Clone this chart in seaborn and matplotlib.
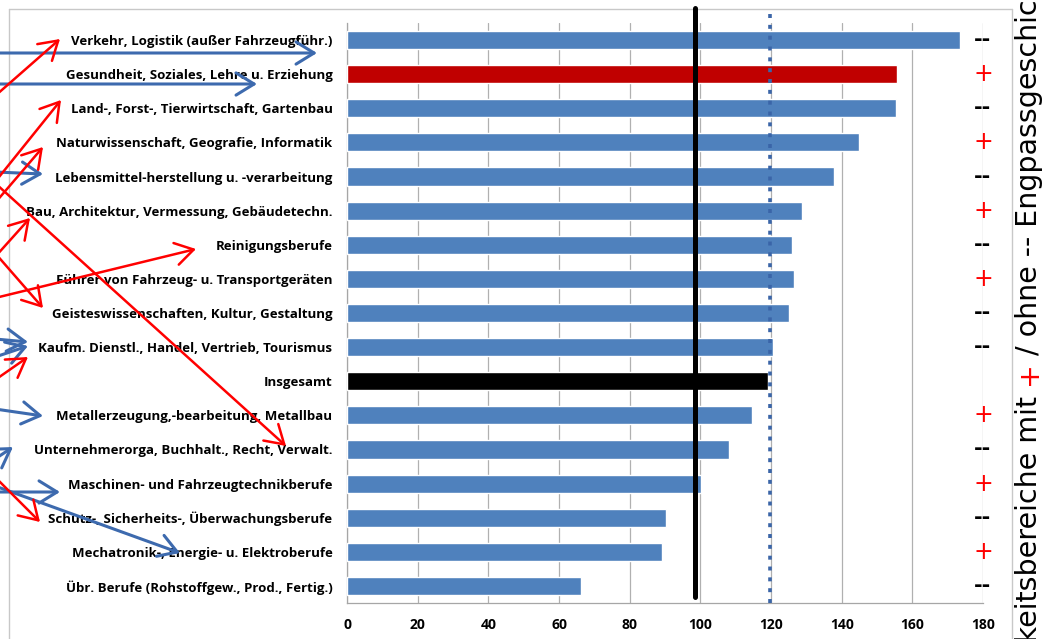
import numpy as np
import pandas as pd
import matplotlib
matplotlib.use("Agg")
import matplotlib.pyplot as plt
import seaborn as sns
from matplotlib.patches import FancyArrowPatch
from matplotlib.lines import Line2D

# --- data -------------------------------------------------------------
categories = [
    "Verkehr, Logistik (außer Fahrzeugführ.)",
    "Gesundheit, Soziales, Lehre u. Erziehung",
    "Land-, Forst-, Tierwirtschaft, Gartenbau",
    "Naturwissenschaft, Geografie, Informatik",
    "Lebensmittel-herstellung u. -verarbeitung",
    "Bau, Architektur, Vermessung, Gebäudetechn.",
    "Reinigungsberufe",
    "Führer von Fahrzeug- u. Transportgeräten",
    "Geisteswissenschaften, Kultur, Gestaltung",
    "Kaufm. Dienstl., Handel, Vertrieb, Tourismus",
    "Insgesamt",
    "Metallerzeugung,-bearbeitung, Metallbau",
    "Unternehmerorga, Buchhalt., Recht, Verwalt.",
    "Maschinen- und Fahrzeugtechnikberufe",
    "Schutz-, Sicherheits-, Überwachungsberufe",
    "Mechatronik-, Energie- u. Elektroberufe",
    "Übr. Berufe (Rohstoffgew., Prod., Fertig.)",
]
values = [173.5, 155.7, 155.4, 144.9, 137.8, 128.8, 126.0, 126.5, 125.1,
          120.6, 119.2, 114.6, 108.1, 100.2, 90.3, 89.2, 66.2]
bar_colors = ["#4F81BD", "#C00000"] + ["#4F81BD"] * 8 + ["#000000"] + ["#4F81BD"] * 6
flags = ["--", "+", "--", "+", "--", "+", "--", "+", "--", "--", "",
         "+", "--", "+", "--", "+", "--"]
reference_level = 98.5
average_level = 119.7
x_ticks = list(range(0, 181, 20))
side_title = ["Tätigkeitsbereiche mit", "+", "/ ohne -- Engpassgeschichte"]

# arrows drawn over the label column (pixel positions, y from top)
red_arrows = [
    ((-5, 96), (60, 39)),
    ((-5, 182), (61, 100)),
    ((-5, 203), (43, 147)),
    ((-5, 257), (30, 218)),
    ((-5, 183), (286, 446)),
    ((-5, 298), (196, 249)),
    ((-5, 253), (43, 308)),
    ((-5, 380), (28, 357)),
    ((-5, 477), (40, 522)),
]
blue_arrows = [
    ((-5, 53), (317, 53)),
    ((-5, 84), (257, 84)),
    ((-5, 172), (43, 174)),
    ((-5, 339), (28, 342)),
    ((-5, 357), (28, 346)),
    ((-5, 409), (43, 416)),
    ((-5, 459), (13, 447)),
    ((-5, 492), (60, 492)),
    ((-5, 486), (180, 553)),
]

# --- figure -------------------------------------------------------------
sns.set_style("white")
plt.rcParams["font.family"] = ["Open Sans", "DejaVu Sans"]
plt.rcParams["text.color"] = "black"
plt.rcParams["xtick.color"] = "black"
plt.rcParams["ytick.color"] = "black"

W, H = 1046, 639
fig = plt.figure(figsize=(W / 100, H / 100), dpi=100)


def fx(px):
    return px / W


def fy(py):
    return 1 - py / H


ax = fig.add_axes([fx(347), fy(603), fx(983) - fx(347), fy(23) - fy(603)])

df = pd.DataFrame({"Bereich": categories, "Wert": values})
sns.barplot(data=df, x="Wert", y="Bereich", hue="Bereich",
            palette=dict(zip(categories, bar_colors)), legend=False,
            orient="h", width=0.53, saturation=1, ax=ax, zorder=3)

n = len(categories)
ax.set_xlim(0, 180)
ax.set_ylim(n - 0.5, -0.5)
ax.set_xticks(x_ticks)
ax.set_xticklabels([str(t) for t in x_ticks], fontweight="bold", fontsize=10,
                   color="black")
ax.set_xlabel("")
ax.set_ylabel("")
ax.xaxis.grid(True, color="#B0B0B0", lw=0.9)
ax.yaxis.grid(False)
ax.set_axisbelow(True)

ax.set_yticks(range(n))
ax.set_yticklabels(categories, fontweight="bold", fontsize=9.5, color="black")
ax.set_yticks(np.arange(-0.5, n, 1), minor=True)
ax.tick_params(axis="y", which="major", length=0, pad=10.5)
ax.tick_params(axis="y", which="minor", length=4, width=0.9, color="#A6A6A6")
ax.tick_params(axis="x", length=0, pad=11)
for side in ("top", "right"):
    ax.spines[side].set_visible(False)
for side in ("left", "bottom"):
    ax.spines[side].set_color("#A6A6A6")
    ax.spines[side].set_linewidth(0.9)

# reference lines
ax.axvline(reference_level, ymin=0.01, ymax=1.026, color="black", lw=3.6,
           clip_on=False, zorder=5)
ax.axvline(average_level, ymin=0.0, ymax=1.026, color="#3A65A8", lw=2.6,
           dashes=(1.1, 1.9), dash_capstyle="butt", clip_on=False, zorder=5)

# shortage markers at the right edge
for i, f in enumerate(flags):
    if f == "+":
        ax.text(180, i, "+", color="#FF0000", fontsize=17, ha="center",
                va="center", family="DejaVu Sans", clip_on=False, zorder=6)
    elif f:
        ax.text(180, i, "--", color="black", fontsize=15, fontweight="bold",
                ha="center", va="center", family="DejaVu Sans",
                clip_on=False, zorder=6)

# outer frame
frame_kw = dict(color="#C8C8C8", lw=1.0, transform=fig.transFigure, zorder=0)
fig.add_artist(Line2D([fx(9), fx(1012)], [fy(9), fy(9)], **frame_kw))
fig.add_artist(Line2D([fx(9), fx(9)], [fy(9), -0.1], **frame_kw))
fig.add_artist(Line2D([fx(1012), fx(1012)], [fy(9), -0.1], **frame_kw))

# arrows
def draw_arrow(p0, p1, color, lw):
    arr = FancyArrowPatch((fx(p0[0]), fy(p0[1])), (fx(p1[0]), fy(p1[1])),
                          transform=fig.transFigure,
                          arrowstyle="->,head_length=0.65,head_width=0.4",
                          mutation_scale=20, color=color, lw=lw,
                          shrinkA=0, shrinkB=0, zorder=10)
    fig.add_artist(arr)


for p0, p1 in blue_arrows:
    draw_arrow(p0, p1, "#3D6AAE", 2.2)
for p0, p1 in red_arrows:
    draw_arrow(p0, p1, "#FF0000", 1.8)

# rotated side title, built from three pieces so the "+" can be red
fig.canvas.draw()
renderer = fig.canvas.get_renderer()
title_kw = dict(rotation=90, fontsize=20.5, ha="center",
                family=["Liberation Sans Narrow", "DejaVu Sans"])
x_title = fx(1029)
plus = fig.text(x_title, fy(373), side_title[1], color="#FF0000", va="center",
                **title_kw)
bb = plus.get_window_extent(renderer).transformed(fig.transFigure.inverted())
fig.text(x_title, bb.y0 - 11 / H, side_title[0], color="black", va="top",
         **title_kw)
fig.text(x_title, bb.y1 + 6 / H, side_title[2], color="black", va="bottom",
         **title_kw)

fig.savefig("out.png", dpi=100)
